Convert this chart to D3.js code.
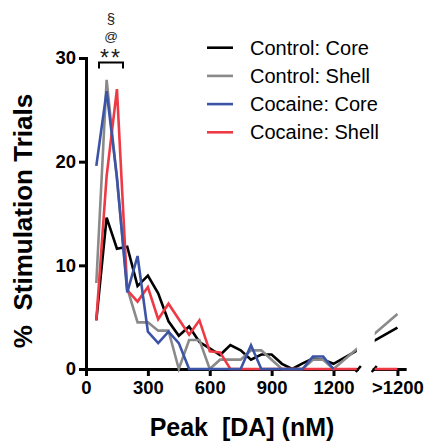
<!DOCTYPE html>
<html>
<head>
<meta charset="utf-8">
<script src="https://cdn.jsdelivr.net/npm/d3@7"></script>
<style>
  body { margin: 0; background: #fff; }
  text { font-family: "Liberation Sans", Arial, sans-serif; }
</style>
</head>
<body>
<div id="chart"></div>
<script>
// bin centres (nM); the last one is the ">1200" bin drawn past the axis break
var bins = [50, 100, 150, 200, 250, 300, 350, 400, 450, 500, 550, 600,
            650, 700, 750, 800, 850, 900, 950, 1000, 1050, 1100, 1150, 1200, 1510];
var overLabel = ">1200";

var controlCore  = [4.7, 14.6, 11.6, 11.8, 8.0, 9.0, 7.3, 4.6, 3.2, 4.1, 2.6, 2.0,
                    1.35, 2.3, 1.8, 0.9, 1.4, 1.4, 0.5, 0, 0.55, 1.0, 0.9, 0.5, 4.0];
var controlShell = [8.3, 27.9, 18.3, 7.8, 4.5, 4.5, 3.7, 3.7, 0, 2.8, 2.8, 0,
                    0.9, 0.9, 0.9, 1.8, 1.8, 0.9, 0, 0, 0, 0.9, 0.9, 0, 5.3];
var cocaineCore  = [19.6, 26.8, 18.5, 7.4, 10.9, 3.6, 2.5, 3.6, 2.5, 0, 0, 0,
                    0, 0, 0, 2.3, 0, 0, 0, 0, 0, 1.2, 1.2, 0, null];
var cocaineShell = [4.7, 18.6, 27.0, 7.6, 6.5, 7.9, 4.8, 6.3, 4.8, 3.3, 4.7, 1.7,
                    1.6, 0, 0, 0, 0, 0, 0, 0, 0, 0, 0, 0, 0];

var seriesNames  = ["Control: Core", "Control: Shell", "Cocaine: Core", "Cocaine: Shell"];
var seriesColors = ["#000000", "#8a8a8a", "#3b54a5", "#ee3a44"];
var seriesData   = [controlCore, controlShell, cocaineCore, cocaineShell];

var yTicks = [0, 10, 20, 30];
var xTicks = [0, 300, 600, 900, 1200];

var W = 426, H = 442;
var svg = d3.select("#chart").append("svg")
    .attr("width", W)
    .attr("height", H);

// main scale: 0..1200 nM lands on 86..333.5 px
var x = d3.scaleLinear().domain([0, 1200]).range([86, 333.5]);
var y = d3.scaleLinear().domain([0, 30]).range([369, 58]);

var seg1End = 1313, seg2Start = 1395, seg2End = 1545;

// clip the lines so they leave a gap at the axis break
var clip = svg.append("defs").append("clipPath").attr("id", "brk");
clip.append("rect").attr("x", 0).attr("y", 0).attr("width", x(seg1End)).attr("height", H);
clip.append("rect").attr("x", x(seg2Start) + 1).attr("y", 0).attr("width", W).attr("height", H);

// y axis
var yAxis = svg.append("g")
    .attr("transform", "translate(" + x(0) + ",0)")
    .call(d3.axisLeft(y).tickValues(yTicks).tickSize(7).tickSizeOuter(0).tickPadding(3));

// x axis, two pieces
var xa = x.copy().domain([0, seg1End]).range([x(0), x(seg1End)]);
var xb = x.copy().domain([seg2Start, seg2End]).range([x(seg2Start), x(seg2End)]);

var xAxis1 = svg.append("g")
    .attr("transform", "translate(0," + y(0) + ")")
    .call(d3.axisBottom(xa).tickValues(xTicks).tickFormat(d3.format("d"))
        .tickSize(7).tickSizeOuter(0).tickPadding(5));
var xAxis2 = svg.append("g")
    .attr("transform", "translate(0," + y(0) + ")")
    .call(d3.axisBottom(xb).tickValues([bins[bins.length - 1]]).tickFormat(function () { return overLabel; })
        .tickSize(7).tickSizeOuter(0).tickPadding(5));

[yAxis, xAxis1, xAxis2].forEach(function (g) {
    g.selectAll("path.domain").attr("stroke", "#000").attr("stroke-width", 3).attr("stroke-linecap", "square");
    g.selectAll(".tick line").attr("stroke", "#000").attr("stroke-width", 3);
    g.selectAll(".tick text")
        .attr("fill", "#000")
        .style("font-family", '"Liberation Sans", Arial, sans-serif')
        .style("font-weight", "bold")
        .style("font-size", "18.5px");
});

// break marks
[x(seg1End) + 2, x(seg2Start) + 1].forEach(function (bx) {
    svg.append("line")
        .attr("x1", bx - 3).attr("y1", y(0) + 3)
        .attr("x2", bx + 2).attr("y2", y(0) - 3)
        .attr("stroke", "#000").attr("stroke-width", 2.5);
});

// series lines
var line = d3.line()
    .defined(function (d) { return d.v != null; })
    .x(function (d) { return x(d.pos); })
    .y(function (d) { return y(d.v); });

var drawOrder = [0, 1, 3, 2];
drawOrder.forEach(function (i) {
    var pts = bins.map(function (b, j) { return { pos: b, v: seriesData[i][j] }; });
    svg.append("path")
        .datum(pts)
        .attr("clip-path", "url(#brk)")
        .attr("fill", "none")
        .attr("stroke", seriesColors[i])
        .attr("stroke-width", 2.6)
        .attr("stroke-linejoin", "miter")
        .attr("d", line);
});

// significance bracket over the 100-150 bins
var bx1 = 99, bx2 = 123, by = 62.5;
svg.append("path")
    .attr("d", "M" + bx1 + "," + (by + 6) + "V" + by + "H" + bx2 + "V" + (by + 6))
    .attr("fill", "none").attr("stroke", "#000").attr("stroke-width", 2);
var bmid = (bx1 + bx2) / 2;
svg.append("text").attr("x", bmid).attr("y", 66).attr("text-anchor", "middle")
    .style("font-size", "23px").style("letter-spacing", "2px").style("fill", "#222").text("**");
svg.append("text").attr("x", bmid).attr("y", 41).attr("text-anchor", "middle")
    .style("font-size", "13.5px").style("fill", "#222").text("@");
svg.append("text").attr("x", bmid).attr("y", 24).attr("text-anchor", "middle")
    .style("font-size", "15px").style("fill", "#222").text("§");

// legend
seriesNames.forEach(function (name, i) {
    var ly = 47.7 + i * 28.2;
    svg.append("line")
        .attr("x1", 207).attr("x2", 233).attr("y1", ly).attr("y2", ly)
        .attr("stroke", seriesColors[i]).attr("stroke-width", 2.6);
    svg.append("text")
        .attr("x", 250).attr("y", ly + 7)
        .style("font-size", "20px")
        .attr("fill", "#000")
        .text(name);
});

// axis titles
svg.append("text")
    .attr("x", 242).attr("y", 436)
    .attr("text-anchor", "middle")
    .style("font-size", "25px").style("font-weight", "bold")
    .style("white-space", "pre")
    .text("Peak  [DA] (nM)");

svg.append("text")
    .attr("transform", "translate(32,221) rotate(-90)")
    .attr("text-anchor", "middle")
    .style("font-size", "26px").style("font-weight", "bold")
    .style("white-space", "pre")
    .text("%  Stimulation Trials");
</script>
</body>
</html>
